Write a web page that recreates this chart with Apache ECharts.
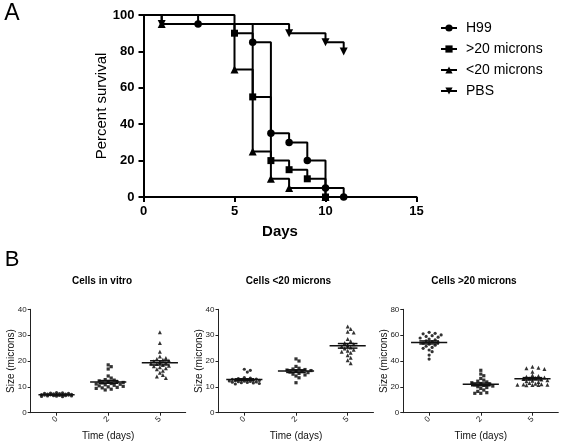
<!DOCTYPE html>
<html><head><meta charset="utf-8">
<script src="https://cdn.jsdelivr.net/npm/echarts@6/dist/echarts.min.js"></script>
<style>html,body{margin:0;padding:0;background:#fff}#c{width:563px;height:445px}</style>
</head><body><div id="c"></div>
<script>
// ---------- Panel A: survival ----------
const survNames = ['H99', '>20 microns', '<20 microns', 'PBS'];
const h99Days  = [0, 3, 6, 7, 8, 9, 10, 11];
const h99Surv  = [100, 95, 85, 35, 30, 20, 5, 0];
const gt20Days = [0, 5, 6, 7, 8, 9, 10];
const gt20Surv = [100, 90, 55, 20, 15, 10, 0];
const lt20Days = [0, 1, 5, 6, 7, 8, 10];
const lt20Surv = [100, 95, 70, 25, 10, 5, 0];
const pbsDays  = [0, 1, 8, 10, 11];
const pbsSurv  = [100, 95, 90, 85, 80];

// ---------- Panel B: cell sizes ----------
const timeCats = ['0', '2', '5'];
const panelTitles = ['Cells in vitro', 'Cells <20 microns', 'Cells >20 microns'];
const vitro0 = [7.8,7.7,7.6,7.5,7.5,7.4,7.3,7.2,7.2,7.1,7.0,7.0,6.9,6.9,6.8,6.8,6.7,6.6,6.6,6.5,6.5,6.4,6.3,6.2];
const vitro2 = [18.5,17.8,16.9,14.2,13.4,12.8,12.6,12.3,12.1,11.9,11.7,11.5,11.3,11.1,11.0,10.8,10.6,10.4,10.2,10.0,9.8,9.6,9.4,9.1,8.8];
const vitro5 = [31.1,27.0,23.6,21.7,21.2,20.8,20.5,20.2,19.9,19.6,19.3,19.0,18.8,18.5,18.2,18.0,17.6,17.2,16.8,16.2,15.5,14.6,14.0,13.4];
const lt0 = [16.8,16.4,15.7,13.6,13.4,13.2,13.0,12.9,12.8,12.7,12.6,12.5,12.4,12.3,12.2,12.1,12.0,11.9,11.8,11.7,11.6,11.5,11.3,11.1];
const lt2 = [20.8,20.0,17.9,17.2,16.9,16.7,16.5,16.3,16.1,15.9,15.7,15.5,15.2,14.9,14.6,14.2,13.5,11.6];
const lt5 = [33.3,32.4,31.3,31.0,28.5,27.6,27.0,26.5,26.0,25.6,25.2,24.8,24.4,24.0,23.6,23.2,22.2,21.3,20.3,19.1];
const gt0 = [62.2,61.4,61.0,60.2,59.6,59.0,58.4,57.8,57.0,56.3,55.6,55.0,54.4,53.8,53.0,52.2,51.4,50.5,49.8,48.5,47.2,44.6,41.5];
const gt2 = [32.8,29.9,28.6,26.5,25.2,24.4,23.8,23.2,22.6,22.1,21.6,21.1,20.6,20.1,19.5,18.8,17.5,16.5,15.5,15.0,15.0];
const gt5 = [35.6,34.8,34.4,33.8,31.7,29.0,28.4,27.8,27.2,26.8,26.4,26.0,25.6,25.2,24.8,24.4,23.8,23.0,22.4,22.0,21.8,21.6,21.4,21.2,21.4,21.6];
const yMaxB = [40, 40, 80];
const yStepB = [10, 10, 20];

const panelGroups = [[vitro0, vitro2, vitro5], [lt0, lt2, lt5], [gt0, gt2, gt5]];
const catSymbols = ['circle', 'rect', 'triangle'];

const FONT = '"Liberation Sans", Arial, sans-serif';
const gridBH = 103.4;

function pts(days, surv) {
  return days.map((d, i) => i === 0 ? { value: [d, surv[i]], symbol: 'none' } : [d, surv[i]]);
}

// beeswarm-style horizontal offsets (pixels), computed from the values, capped in width
function swarm(vals, pxPerUnit) {
  const D = 3.4, step = 3.0, cap = 17;
  const order = vals.map((v, i) => i).sort((a, b) => vals[b] - vals[a]);
  const placed = [];
  const off = new Array(vals.length).fill(0);
  const cands = [0];
  for (let k = 1; k * step <= cap; k++) { cands.push(k * step, -k * step); }
  order.forEach(i => {
    const y = vals[i] * pxPerUnit;
    let best = 0, bestD = -1, chosen = null;
    for (const dx of cands) {
      let md = Infinity;
      placed.forEach(p => { md = Math.min(md, Math.hypot(p[0] - dx, p[1] - y)); });
      if (md >= D) { chosen = dx; break; }
      if (md > bestD) { bestD = md; best = dx; }
    }
    if (chosen === null) chosen = best;
    placed.push([chosen, y]); off[i] = chosen;
  });
  return off;
}
function meanSem(a) {
  const n = a.length, m = a.reduce((s, v) => s + v, 0) / n;
  const sd = Math.sqrt(a.reduce((s, v) => s + (v - m) ** 2, 0) / (n - 1));
  return [m, sd / Math.sqrt(n)];
}

const chart = echarts.init(document.getElementById('c'), null, { renderer: 'canvas' });

const grids = [{ left: 143.5, top: 15, width: 273, height: 182 }];
const bLefts = [30.7, 218.5, 403.3];
bLefts.forEach(l => grids.push({ left: l, top: 309.3, width: 155, height: gridBH }));

const xAxes = [{
  gridIndex: 0, type: 'value', min: 0, max: 15, interval: 5,
  axisLine: { show: true, lineStyle: { color: '#000', width: 2 } },
  axisTick: { show: true, length: 5, lineStyle: { color: '#000', width: 2 } },
  splitLine: { show: false },
  axisLabel: { color: '#000', fontSize: 13, fontWeight: 'bold', fontFamily: FONT, margin: 8 },
  name: 'Days', nameLocation: 'middle', nameGap: 27, nameMoveOverlap: false,
  nameTextStyle: { color: '#000', fontSize: 15, fontWeight: 'bold', fontFamily: FONT }
}];
const yAxes = [{
  gridIndex: 0, type: 'value', min: 0, max: 100, interval: 20,
  axisLine: { show: true, lineStyle: { color: '#000', width: 2 } },
  axisTick: { show: true, length: 5, lineStyle: { color: '#000', width: 2 } },
  splitLine: { show: false },
  axisLabel: { color: '#000', fontSize: 13, fontWeight: 'bold', fontFamily: FONT, margin: 9 },
  name: 'Percent survival', nameLocation: 'middle', nameGap: 34, nameMoveOverlap: false,
  nameTextStyle: { color: '#000', fontSize: 15, fontFamily: FONT }
}];
for (let p = 0; p < 3; p++) {
  xAxes.push({
    gridIndex: p + 1, type: 'category', data: timeCats, boundaryGap: true,
    axisLine: { show: true, lineStyle: { color: '#222', width: 1 } },
    axisTick: { show: true, alignWithLabel: true, length: 3, lineStyle: { color: '#222' } },
    axisLabel: { color: '#222', fontSize: 8, fontFamily: FONT, rotate: 45, margin: 5 },
    name: 'Time (days)', nameLocation: 'middle', nameGap: 19, nameMoveOverlap: false,
    nameTextStyle: { color: '#111', fontSize: 10, fontFamily: FONT }
  });
  yAxes.push({
    gridIndex: p + 1, type: 'value', min: 0, max: yMaxB[p], interval: yStepB[p],
    axisLine: { show: true, lineStyle: { color: '#222', width: 1 } },
    axisTick: { show: true, length: 3, lineStyle: { color: '#222' } },
    splitLine: { show: false },
    axisLabel: { color: '#222', fontSize: 8, fontFamily: FONT, margin: 4 },
    name: 'Size (microns)', nameLocation: 'middle', nameGap: 14, nameMoveOverlap: false,
    nameTextStyle: { color: '#111', fontSize: 10, fontFamily: FONT }
  });
}

const lineBase = {
  type: 'line', step: 'end', xAxisIndex: 0, yAxisIndex: 0, clip: false,
  symbolSize: 7.5, lineStyle: { color: '#000', width: 2 }, itemStyle: { color: '#000' },
  emphasis: { disabled: true }
};
const series = [
  Object.assign({}, lineBase, { name: survNames[0], symbol: 'circle', data: pts(h99Days, h99Surv) }),
  Object.assign({}, lineBase, { name: survNames[1], symbol: 'rect', symbolSize: 7, data: pts(gt20Days, gt20Surv) }),
  Object.assign({}, lineBase, { name: survNames[2], symbol: 'triangle', symbolSize: 8, data: pts(lt20Days, lt20Surv) }),
  Object.assign({}, lineBase, { name: survNames[3], symbol: 'triangle', symbolSize: 8, symbolRotate: 180, data: pts(pbsDays, pbsSurv) })
];

for (let p = 0; p < 3; p++) {
  const pxu = gridBH / yMaxB[p];
  const stats = [];
  panelGroups[p].forEach((vals, ci) => {
    const off = swarm(vals, pxu);
    series.push({
      type: 'scatter', xAxisIndex: p + 1, yAxisIndex: p + 1, clip: false,
      symbol: catSymbols[ci], symbolSize: ci === 2 ? 4 : 3.2,
      itemStyle: { color: '#000' },
      data: vals.map((v, i) => ({ value: [ci, v], symbolOffset: [off[i], 0] }))
    });
    const ms = meanSem(vals);
    stats.push([ci, ms[0], ms[1]]);
  });
  series.push({
    type: 'custom', xAxisIndex: p + 1, yAxisIndex: p + 1, z: 5,
    data: stats,
    renderItem: function (params, api) {
      const x = api.value(0), m = api.value(1), s = api.value(2);
      const c = api.coord([x, m]);
      const t = api.coord([x, m + s]);
      const b = api.coord([x, m - s]);
      const bw = api.size([1, 0])[0];
      const st = { stroke: '#111', lineWidth: 1.5 };
      return {
        type: 'group', children: [
          { type: 'line', shape: { x1: c[0] - bw * 0.35, y1: c[1], x2: c[0] + bw * 0.35, y2: c[1] }, style: st },
          { type: 'line', shape: { x1: c[0], y1: t[1], x2: c[0], y2: b[1] }, style: st },
          { type: 'line', shape: { x1: c[0] - bw * 0.19, y1: t[1], x2: c[0] + bw * 0.19, y2: t[1] }, style: st },
          { type: 'line', shape: { x1: c[0] - bw * 0.19, y1: b[1], x2: c[0] + bw * 0.19, y2: b[1] }, style: st }
        ]
      };
    }
  });
}

function txt(text, x, y, font, rot) {
  return {
    type: 'text', x: x, y: y, rotation: rot || 0, silent: true,
    style: { text: text, font: font, fill: '#000', align: 'center', verticalAlign: 'middle',
             textAlign: 'center', textVerticalAlign: 'middle' }
  };
}

chart.setOption({
  backgroundColor: '#fff',
  animation: false,
  grid: grids,
  xAxis: xAxes,
  yAxis: yAxes,
  legend: {
    data: survNames, orient: 'vertical', left: 435, top: 15,
    itemWidth: 16, itemHeight: 9, itemGap: 5,
    textStyle: { color: '#000', fontSize: 14, fontFamily: FONT, padding: [0, 0, 0, 4], lineHeight: 16 }
  },
  graphic: [
    txt('A', 12, 14, '23px ' + FONT),
    txt('B', 12, 260, '22px ' + FONT),
    txt(panelTitles[0], 102, 281, 'bold 10px ' + FONT),
    txt(panelTitles[1], 288.5, 281, 'bold 10px ' + FONT),
    txt(panelTitles[2], 474, 281, 'bold 10px ' + FONT)
  ],
  series: series
});
</script>
</body></html>
